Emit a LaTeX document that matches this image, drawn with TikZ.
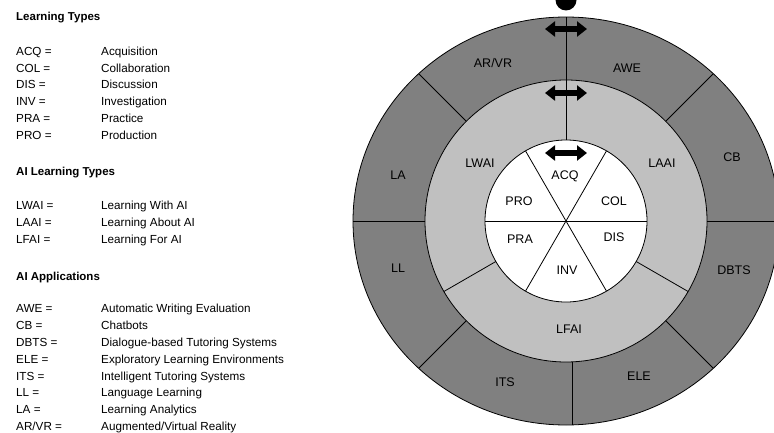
\documentclass[tikz,border=0pt]{standalone}
\usepackage{fontspec}
\setmainfont{Liberation Sans}
\usetikzlibrary{arrows.meta}
\definecolor{ringdark}{RGB}{128,128,128}
\definecolor{ringlight}{RGB}{192,192,192}

\begin{document}
\begin{tikzpicture}[x=1pt,y=1pt,
	lbl/.style={font=\fontsize{12.5}{14}\selectfont, text height=9pt, text depth=0pt, inner sep=0pt},
	head/.style={anchor=base west, inner sep=0pt, font=\fontsize{11.5}{14}\selectfont\bfseries},
	keylist/.style={anchor=north west, inner sep=0pt, font=\fontsize{11.7}{16.9}\selectfont},
	sep/.style={line width=0.8pt},
	dblarrow/.style={line width=6pt, {Triangle[length=10pt,width=15pt]}-{Triangle[length=10pt,width=15pt]}}]

	\useasboundingbox (0,0) rectangle (774,432);

	\node[head] (lthead) at (16,411.1) {Learning Types};
	\node[keylist] (ltlist) at (16,388.9) {\begin{tabular}{@{}p{85pt}@{}l@{}}
		ACQ = & Acquisition\\
		COL = & Collaboration\\
		DIS = & Discussion\\
		INV = & Investigation\\
		PRA = & Practice\\
		PRO = & Production
	\end{tabular}};

	\node[head] (aihead) at (16,256.1) {AI Learning Types};
	\node[keylist] (ailist) at (16,234.6) {\begin{tabular}{@{}p{85pt}@{}l@{}}
		LWAI = & Learning With AI\\
		LAAI = & Learning About AI\\
		LFAI = & Learning For AI
	\end{tabular}};

	\node[head] (apphead) at (16,151.8) {AI Applications};
	\node[keylist] (applist) at (16,131.6) {\begin{tabular}{@{}p{85pt}@{}l@{}}
		AWE = & Automatic Writing Evaluation\\
		CB = & Chatbots\\
		DBTS = & Dialogue-based Tutoring Systems\\
		ELE = & Exploratory Learning Environments\\
		ITS = & Intelligent Tutoring Systems\\
		LL = & Language Learning\\
		LA = & Learning Analytics\\
		AR/VR = & Augmented/Virtual Reality
	\end{tabular}};

	\coordinate (c) at (566,211);
	\filldraw[fill=ringdark, sep] (c) ellipse [x radius=213, y radius=204];
	\filldraw[fill=ringlight, sep] (c) circle [radius=141];
	\filldraw[fill=white, sep] (c) circle [radius=81];

	\begin{scope}
		\clip (c) ellipse [x radius=213, y radius=204];
		\draw[sep] (c) ++(0:141) -- ++(0:90);
		\draw[sep] (c) ++(45:141) -- ++(45:90);
		\draw[sep] (c) ++(90:81) -- ++(90:150);
		\draw[sep] (c) ++(135:141) -- ++(135:90);
		\draw[sep] (c) ++(180:141) -- ++(180:90);
		\draw[sep] (c) ++(225:141) -- ++(225:90);
		\draw[sep] ([xshift=6pt]c) ++(270:141) -- ++(270:90);
		\draw[sep] (c) ++(315:141) -- ++(315:90);
	\end{scope}

	\draw[sep] (c) ++(210:81) -- ++(210:60);
	\draw[sep] (c) ++(330:81) -- ++(330:60);

	\draw[sep] (c) ++(0:81) -- ++(180:162);
	\draw[sep] (c) ++(60:81) -- ++(240:162);
	\draw[sep] (c) ++(120:81) -- ++(300:162);

	\node[lbl] (arvr) at (493,368.7) {AR/VR};
	\node[lbl] (awe) at (627,363.7) {AWE};
	\node[lbl] (cb) at (732,275.3) {CB};
	\node[lbl] (dbts) at (734,162) {DBTS};
	\node[lbl] (ele) at (639,56.3) {ELE};
	\node[lbl] (its) at (505,50.3) {ITS};
	\node[lbl] (ll) at (398,163.7) {LL};
	\node[lbl] (la) at (398,257) {LA};

	\node[lbl] (lwai) at (480,269.3) {LWAI};
	\node[lbl] (laai) at (662,269.3) {LAAI};
	\node[lbl] (lfai) at (569,102.7) {LFAI};

	\node[lbl] (acq) at (565,257) {ACQ};
	\node[lbl] (col) at (614,231) {COL};
	\node[lbl] (dis) at (614,195.3) {DIS};
	\node[lbl] (inv) at (567,162) {INV};
	\node[lbl] (pra) at (520,192.7) {PRA};
	\node[lbl] (pro) at (519,231) {PRO};

	\coordinate (outl) at (545,403);
	\coordinate (outr) at (587,403);
	\coordinate (midl) at (545,339);
	\coordinate (midr) at (587,339);
	\coordinate (innl) at (545,279);
	\coordinate (innr) at (587,279);
	\draw[dblarrow] (outl) -- (outr);
	\draw[dblarrow] (midl) -- (midr);
	\draw[dblarrow] (innl) -- (innr);

	\coordinate (pin) at (566,432);
	\fill (pin) circle [radius=10.5];

\end{tikzpicture}
\end{document}
